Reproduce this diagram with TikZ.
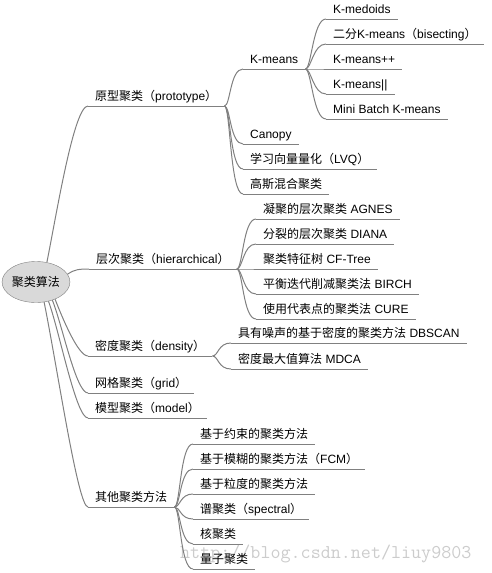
\documentclass[tikz,border=0pt]{standalone}
\usepackage{fontspec}
\setmainfont{Liberation Sans}
\newfontfamily\cjk{Noto Sans CJK SC}
\newcommand\zh[1]{{\cjk #1}}
\usetikzlibrary{shapes.geometric}
\definecolor{lncol}{RGB}{128,128,128}
\definecolor{ellfill}{RGB}{217,217,217}
\begin{document}
\begin{tikzpicture}[x=1pt,y=-1pt,
  lbl/.style={anchor=south west, inner xsep=7pt, inner ysep=5pt, text depth=0pt, font=\fontsize{12}{14}\selectfont},
  ln/.style={draw=lncol, line width=1pt},
  sib/.style={to path={.. controls +(6,0) and +(-13,0) .. (\tikztotarget)}},
]
\useasboundingbox (0,0) rectangle (491,573);
% watermark
\node[font=\ttfamily\fontsize{19.5}{20}\selectfont, text=black!20, anchor=base west, inner sep=0] (wm) at (180,558) {http://blog.csdn.net/liuy9803};

\node[draw=lncol, fill=ellfill, ellipse, minimum width=67pt, minimum height=41pt, inner sep=0, font=\fontsize{12}{14}\selectfont] (root) at (36,282) {\zh{聚类算法}};

% level 1
\node[lbl] (proto) at (88,106) {\zh{原型聚类（}prototype\zh{）}};
\node[lbl] (hier) at (89,269) {\zh{层次聚类（}hierarchical\zh{）}};
\node[lbl] (dens) at (88,356) {\zh{密度聚类（}density\zh{）}};
\node[lbl] (grid) at (88,393) {\zh{网格聚类（}grid\zh{）}};
\node[lbl] (model) at (88,418) {\zh{模型聚类（}model\zh{）}};
\node[lbl] (other) at (88,507) {\zh{其他聚类方法}};

% prototype children
\node[lbl] (kmeans) at (243,69) {K-means};
\node[lbl] (canopy) at (243,144) {Canopy};
\node[lbl] (lvq) at (243,169) {\zh{学习向量量化（}LVQ\zh{）}};
\node[lbl] (gmm) at (243,194) {\zh{高斯混合聚类}};

% k-means children
\node[lbl] (kmed) at (326,19) {K-medoids};
\node[lbl] (bisect) at (326,44) {\zh{二分}K-means\zh{（}bisecting\zh{）}};
\node[lbl] (kpp) at (326,69) {K-means++};
\node[lbl] (kpar) at (326,94) {K-means||};
\node[lbl] (mbk) at (326,119) {Mini Batch K-means};

% hierarchical children
\node[lbl] (agnes) at (256,219) {\zh{凝聚的层次聚类} AGNES};
\node[lbl] (diana) at (256,244) {\zh{分裂的层次聚类} DIANA};
\node[lbl] (cft) at (256,269) {\zh{聚类特征树} CF-Tree};
\node[lbl] (birch) at (256,294) {\zh{平衡迭代削减聚类法} BIRCH};
\node[lbl] (cure) at (256,319) {\zh{使用代表点的聚类法} CURE};

% density children
\node[lbl] (dbscan) at (231,343) {\zh{具有噪声的基于密度的聚类方法} DBSCAN};
\node[lbl] (mdca) at (231,369) {\zh{密度最大值算法} MDCA};

% other children
\node[lbl] (o1) at (193,444) {\zh{基于约束的聚类方法}};
\node[lbl] (o2) at (193,469) {\zh{基于模糊的聚类方法（}FCM\zh{）}};
\node[lbl] (o3) at (193,494) {\zh{基于粒度的聚类方法}};
\node[lbl] (o4) at (193,519) {\zh{谱聚类（}spectral\zh{）}};
\node[lbl] (o5) at (193,544) {\zh{核聚类}};
\node[lbl] (o6) at (193,569) {\zh{量子聚类}};

% underlines
\foreach \n in {proto,hier,dens,grid,model,other,kmeans,canopy,lvq,gmm,kmed,bisect,kpp,kpar,mbk,agnes,diana,cft,birch,cure,dbscan,mdca,o1,o2,o3,o4,o5,o6}
  \draw[ln] (\n.south west) -- (\n.south east);

% root connectors
\draw[ln] (root.61) .. controls +(10,-50) and +(-14,0) .. (proto.south west);
\draw[ln] (root.14) .. controls +(8,-5) and +(-10,0) .. (hier.south west);
\draw[ln] (root.-42) .. controls +(7,18) and +(-10,0) .. (dens.south west);
\draw[ln] (root.-48) .. controls +(10,25) and +(-12,0) .. (grid.south west);
\draw[ln] (root.-57) .. controls +(11,30) and +(-12,0) .. (model.south west);
\draw[ln] (root.-68) .. controls +(14,70) and +(-10,0) .. (other.south west);

% sibling connectors
\foreach \c in {kmeans,canopy,lvq,gmm} \draw[ln] (proto.south east) to[sib] (\c.south west);
\foreach \c in {kmed,bisect,kpp,kpar,mbk} \draw[ln] (kmeans.south east) to[sib] (\c.south west);
\foreach \c in {agnes,diana,cft,birch,cure} \draw[ln] (hier.south east) to[sib] (\c.south west);
\foreach \c in {dbscan,mdca} \draw[ln] (dens.south east) to[sib] (\c.south west);
\foreach \c in {o1,o2,o3,o4,o5,o6} \draw[ln] (other.south east) to[sib] (\c.south west);
\end{tikzpicture}
\end{document}
